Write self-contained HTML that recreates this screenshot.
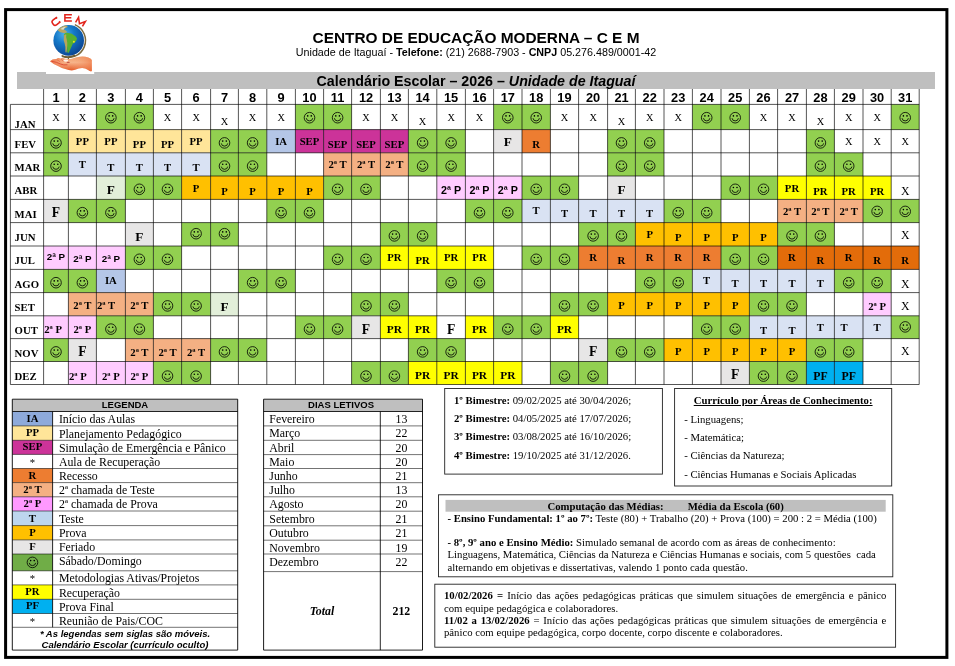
<!DOCTYPE html>
<html lang="pt-BR"><head><meta charset="utf-8"><title>Calendário Escolar 2026 – CEM Itaguaí</title>
<style>
html,body{margin:0;padding:0;background:#fff;}
body{width:955px;height:666px;overflow:hidden;position:relative;font-family:"Liberation Serif",serif;color:#000;}
#g{position:absolute;left:0;top:0;}
#tx{position:absolute;left:0;top:0;width:955px;height:666px;will-change:transform;}
.t{position:absolute;white-space:nowrap;margin:0;padding:0;}
</style></head><body>
<svg id="g" width="955" height="666" viewBox="0 0 955 666">
<defs><g id="sm"><circle r="5.3" fill="none" stroke="#000" stroke-width="0.9" stroke-opacity="0.9"/><circle cx="-1.8" cy="-1.8" r="0.8" fill="#000"/><circle cx="1.8" cy="-1.8" r="0.8" fill="#000"/><path d="M-3.2 0.5 Q-2.9 3.2 0 3.2 Q2.9 3.2 3.2 0.5" fill="none" stroke="#000" stroke-width="0.9" stroke-opacity="0.9"/></g></defs>
<rect x="5.6" y="9.6" width="941.3" height="647.8" fill="none" stroke="#000" stroke-width="3"/>
<rect x="17.00" y="72.00" width="918.00" height="17.00" fill="#bfbfbf" />
<rect x="96.40" y="104.40" width="29.00" height="25.20" fill="#92d050" />
<rect x="125.40" y="104.40" width="28.00" height="25.20" fill="#92d050" />
<rect x="295.40" y="104.40" width="28.20" height="25.20" fill="#92d050" />
<rect x="323.60" y="104.40" width="28.00" height="25.20" fill="#92d050" />
<rect x="493.60" y="104.40" width="28.40" height="25.20" fill="#92d050" />
<rect x="522.00" y="104.40" width="28.40" height="25.20" fill="#92d050" />
<rect x="692.40" y="104.40" width="28.60" height="25.20" fill="#92d050" />
<rect x="721.00" y="104.40" width="28.40" height="25.20" fill="#92d050" />
<rect x="891.20" y="104.40" width="28.00" height="25.20" fill="#92d050" />
<rect x="43.60" y="129.60" width="24.80" height="23.20" fill="#92d050" />
<rect x="68.40" y="129.60" width="28.00" height="23.20" fill="#ffe599" />
<rect x="96.40" y="129.60" width="29.00" height="23.20" fill="#ffe599" />
<rect x="125.40" y="129.60" width="28.00" height="23.20" fill="#ffe599" />
<rect x="153.40" y="129.60" width="28.20" height="23.20" fill="#ffe599" />
<rect x="181.60" y="129.60" width="29.00" height="23.20" fill="#ffe599" />
<rect x="210.60" y="129.60" width="27.80" height="23.20" fill="#92d050" />
<rect x="238.40" y="129.60" width="28.40" height="23.20" fill="#92d050" />
<rect x="266.80" y="129.60" width="28.60" height="23.20" fill="#b4c6e7" />
<rect x="295.40" y="129.60" width="28.20" height="23.20" fill="#cc3399" />
<rect x="323.60" y="129.60" width="28.00" height="23.20" fill="#cc3399" />
<rect x="351.60" y="129.60" width="28.80" height="23.20" fill="#cc3399" />
<rect x="380.40" y="129.60" width="28.00" height="23.20" fill="#cc3399" />
<rect x="408.40" y="129.60" width="28.40" height="23.20" fill="#92d050" />
<rect x="436.80" y="129.60" width="28.60" height="23.20" fill="#92d050" />
<rect x="493.60" y="129.60" width="28.40" height="23.20" fill="#e7e6e6" />
<rect x="522.00" y="129.60" width="28.40" height="23.20" fill="#ed7d31" />
<rect x="607.60" y="129.60" width="27.80" height="23.20" fill="#92d050" />
<rect x="635.40" y="129.60" width="28.60" height="23.20" fill="#92d050" />
<rect x="806.40" y="129.60" width="28.00" height="23.20" fill="#92d050" />
<rect x="43.60" y="152.80" width="24.80" height="23.20" fill="#92d050" />
<rect x="68.40" y="152.80" width="28.00" height="23.20" fill="#d9e2f3" />
<rect x="96.40" y="152.80" width="29.00" height="23.20" fill="#d9e2f3" />
<rect x="125.40" y="152.80" width="28.00" height="23.20" fill="#d9e2f3" />
<rect x="153.40" y="152.80" width="28.20" height="23.20" fill="#d9e2f3" />
<rect x="181.60" y="152.80" width="29.00" height="23.20" fill="#d9e2f3" />
<rect x="210.60" y="152.80" width="27.80" height="23.20" fill="#92d050" />
<rect x="238.40" y="152.80" width="28.40" height="23.20" fill="#92d050" />
<rect x="323.60" y="152.80" width="28.00" height="23.20" fill="#f4b083" />
<rect x="351.60" y="152.80" width="28.80" height="23.20" fill="#f4b083" />
<rect x="380.40" y="152.80" width="28.00" height="23.20" fill="#f4b083" />
<rect x="408.40" y="152.80" width="28.40" height="23.20" fill="#92d050" />
<rect x="436.80" y="152.80" width="28.60" height="23.20" fill="#92d050" />
<rect x="607.60" y="152.80" width="27.80" height="23.20" fill="#92d050" />
<rect x="635.40" y="152.80" width="28.60" height="23.20" fill="#92d050" />
<rect x="806.40" y="152.80" width="28.00" height="23.20" fill="#92d050" />
<rect x="834.40" y="152.80" width="28.60" height="23.20" fill="#92d050" />
<rect x="96.40" y="176.00" width="29.00" height="23.40" fill="#e2efd9" />
<rect x="125.40" y="176.00" width="28.00" height="23.40" fill="#92d050" />
<rect x="153.40" y="176.00" width="28.20" height="23.40" fill="#92d050" />
<rect x="181.60" y="176.00" width="29.00" height="23.40" fill="#ffc000" />
<rect x="210.60" y="176.00" width="27.80" height="23.40" fill="#ffc000" />
<rect x="238.40" y="176.00" width="28.40" height="23.40" fill="#ffc000" />
<rect x="266.80" y="176.00" width="28.60" height="23.40" fill="#ffc000" />
<rect x="295.40" y="176.00" width="28.20" height="23.40" fill="#ffc000" />
<rect x="323.60" y="176.00" width="28.00" height="23.40" fill="#92d050" />
<rect x="351.60" y="176.00" width="28.80" height="23.40" fill="#92d050" />
<rect x="436.80" y="176.00" width="28.60" height="23.40" fill="#ffccff" />
<rect x="465.40" y="176.00" width="28.20" height="23.40" fill="#ffccff" />
<rect x="493.60" y="176.00" width="28.40" height="23.40" fill="#ffccff" />
<rect x="522.00" y="176.00" width="28.40" height="23.40" fill="#92d050" />
<rect x="550.40" y="176.00" width="28.20" height="23.40" fill="#92d050" />
<rect x="607.60" y="176.00" width="27.80" height="23.40" fill="#e7e6e6" />
<rect x="721.00" y="176.00" width="28.40" height="23.40" fill="#92d050" />
<rect x="749.40" y="176.00" width="28.20" height="23.40" fill="#92d050" />
<rect x="777.60" y="176.00" width="28.80" height="23.40" fill="#ffff00" />
<rect x="806.40" y="176.00" width="28.00" height="23.40" fill="#ffff00" />
<rect x="834.40" y="176.00" width="28.60" height="23.40" fill="#ffff00" />
<rect x="863.00" y="176.00" width="28.20" height="23.40" fill="#ffff00" />
<rect x="43.60" y="199.40" width="24.80" height="23.20" fill="#e7e6e6" />
<rect x="68.40" y="199.40" width="28.00" height="23.20" fill="#92d050" />
<rect x="96.40" y="199.40" width="29.00" height="23.20" fill="#92d050" />
<rect x="266.80" y="199.40" width="28.60" height="23.20" fill="#92d050" />
<rect x="295.40" y="199.40" width="28.20" height="23.20" fill="#92d050" />
<rect x="465.40" y="199.40" width="28.20" height="23.20" fill="#92d050" />
<rect x="493.60" y="199.40" width="28.40" height="23.20" fill="#92d050" />
<rect x="522.00" y="199.40" width="28.40" height="23.20" fill="#d9e2f3" />
<rect x="550.40" y="199.40" width="28.20" height="23.20" fill="#d9e2f3" />
<rect x="578.60" y="199.40" width="29.00" height="23.20" fill="#d9e2f3" />
<rect x="607.60" y="199.40" width="27.80" height="23.20" fill="#d9e2f3" />
<rect x="635.40" y="199.40" width="28.60" height="23.20" fill="#d9e2f3" />
<rect x="664.00" y="199.40" width="28.40" height="23.20" fill="#92d050" />
<rect x="692.40" y="199.40" width="28.60" height="23.20" fill="#92d050" />
<rect x="777.60" y="199.40" width="28.80" height="23.20" fill="#f4b083" />
<rect x="806.40" y="199.40" width="28.00" height="23.20" fill="#f4b083" />
<rect x="834.40" y="199.40" width="28.60" height="23.20" fill="#f4b083" />
<rect x="863.00" y="199.40" width="28.20" height="23.20" fill="#92d050" />
<rect x="891.20" y="199.40" width="28.00" height="23.20" fill="#92d050" />
<rect x="125.40" y="222.60" width="28.00" height="23.40" fill="#e7e6e6" />
<rect x="181.60" y="222.60" width="29.00" height="23.40" fill="#92d050" />
<rect x="210.60" y="222.60" width="27.80" height="23.40" fill="#92d050" />
<rect x="380.40" y="222.60" width="28.00" height="23.40" fill="#92d050" />
<rect x="408.40" y="222.60" width="28.40" height="23.40" fill="#92d050" />
<rect x="578.60" y="222.60" width="29.00" height="23.40" fill="#92d050" />
<rect x="607.60" y="222.60" width="27.80" height="23.40" fill="#92d050" />
<rect x="635.40" y="222.60" width="28.60" height="23.40" fill="#ffc000" />
<rect x="664.00" y="222.60" width="28.40" height="23.40" fill="#ffc000" />
<rect x="692.40" y="222.60" width="28.60" height="23.40" fill="#ffc000" />
<rect x="721.00" y="222.60" width="28.40" height="23.40" fill="#ffc000" />
<rect x="749.40" y="222.60" width="28.20" height="23.40" fill="#ffc000" />
<rect x="777.60" y="222.60" width="28.80" height="23.40" fill="#92d050" />
<rect x="806.40" y="222.60" width="28.00" height="23.40" fill="#92d050" />
<rect x="43.60" y="246.00" width="24.80" height="23.40" fill="#ffccff" />
<rect x="68.40" y="246.00" width="28.00" height="23.40" fill="#ffccff" />
<rect x="96.40" y="246.00" width="29.00" height="23.40" fill="#ffccff" />
<rect x="125.40" y="246.00" width="28.00" height="23.40" fill="#92d050" />
<rect x="153.40" y="246.00" width="28.20" height="23.40" fill="#92d050" />
<rect x="323.60" y="246.00" width="28.00" height="23.40" fill="#92d050" />
<rect x="351.60" y="246.00" width="28.80" height="23.40" fill="#92d050" />
<rect x="380.40" y="246.00" width="28.00" height="23.40" fill="#ffff00" />
<rect x="408.40" y="246.00" width="28.40" height="23.40" fill="#ffff00" />
<rect x="436.80" y="246.00" width="28.60" height="23.40" fill="#ffff00" />
<rect x="465.40" y="246.00" width="28.20" height="23.40" fill="#ffff00" />
<rect x="522.00" y="246.00" width="28.40" height="23.40" fill="#92d050" />
<rect x="550.40" y="246.00" width="28.20" height="23.40" fill="#92d050" />
<rect x="578.60" y="246.00" width="29.00" height="23.40" fill="#ed7d31" />
<rect x="607.60" y="246.00" width="27.80" height="23.40" fill="#ed7d31" />
<rect x="635.40" y="246.00" width="28.60" height="23.40" fill="#ed7d31" />
<rect x="664.00" y="246.00" width="28.40" height="23.40" fill="#ed7d31" />
<rect x="692.40" y="246.00" width="28.60" height="23.40" fill="#ed7d31" />
<rect x="721.00" y="246.00" width="28.40" height="23.40" fill="#92d050" />
<rect x="749.40" y="246.00" width="28.20" height="23.40" fill="#92d050" />
<rect x="777.60" y="246.00" width="28.80" height="23.40" fill="#e36c0a" />
<rect x="806.40" y="246.00" width="28.00" height="23.40" fill="#e36c0a" />
<rect x="834.40" y="246.00" width="28.60" height="23.40" fill="#e36c0a" />
<rect x="863.00" y="246.00" width="28.20" height="23.40" fill="#e36c0a" />
<rect x="891.20" y="246.00" width="28.00" height="23.40" fill="#e36c0a" />
<rect x="43.60" y="269.40" width="24.80" height="23.20" fill="#92d050" />
<rect x="68.40" y="269.40" width="28.00" height="23.20" fill="#92d050" />
<rect x="96.40" y="269.40" width="29.00" height="23.20" fill="#b4c6e7" />
<rect x="238.40" y="269.40" width="28.40" height="23.20" fill="#92d050" />
<rect x="266.80" y="269.40" width="28.60" height="23.20" fill="#92d050" />
<rect x="436.80" y="269.40" width="28.60" height="23.20" fill="#92d050" />
<rect x="465.40" y="269.40" width="28.20" height="23.20" fill="#92d050" />
<rect x="635.40" y="269.40" width="28.60" height="23.20" fill="#92d050" />
<rect x="664.00" y="269.40" width="28.40" height="23.20" fill="#92d050" />
<rect x="692.40" y="269.40" width="28.60" height="23.20" fill="#d9e2f3" />
<rect x="721.00" y="269.40" width="28.40" height="23.20" fill="#d9e2f3" />
<rect x="749.40" y="269.40" width="28.20" height="23.20" fill="#d9e2f3" />
<rect x="777.60" y="269.40" width="28.80" height="23.20" fill="#d9e2f3" />
<rect x="806.40" y="269.40" width="28.00" height="23.20" fill="#d9e2f3" />
<rect x="834.40" y="269.40" width="28.60" height="23.20" fill="#92d050" />
<rect x="863.00" y="269.40" width="28.20" height="23.20" fill="#92d050" />
<rect x="68.40" y="292.60" width="28.00" height="23.20" fill="#f4b083" />
<rect x="96.40" y="292.60" width="29.00" height="23.20" fill="#f4b083" />
<rect x="125.40" y="292.60" width="28.00" height="23.20" fill="#f4b083" />
<rect x="153.40" y="292.60" width="28.20" height="23.20" fill="#92d050" />
<rect x="181.60" y="292.60" width="29.00" height="23.20" fill="#92d050" />
<rect x="210.60" y="292.60" width="27.80" height="23.20" fill="#e2efd9" />
<rect x="351.60" y="292.60" width="28.80" height="23.20" fill="#92d050" />
<rect x="380.40" y="292.60" width="28.00" height="23.20" fill="#92d050" />
<rect x="550.40" y="292.60" width="28.20" height="23.20" fill="#92d050" />
<rect x="578.60" y="292.60" width="29.00" height="23.20" fill="#92d050" />
<rect x="607.60" y="292.60" width="27.80" height="23.20" fill="#ffc000" />
<rect x="635.40" y="292.60" width="28.60" height="23.20" fill="#ffc000" />
<rect x="664.00" y="292.60" width="28.40" height="23.20" fill="#ffc000" />
<rect x="692.40" y="292.60" width="28.60" height="23.20" fill="#ffc000" />
<rect x="721.00" y="292.60" width="28.40" height="23.20" fill="#ffc000" />
<rect x="749.40" y="292.60" width="28.20" height="23.20" fill="#92d050" />
<rect x="777.60" y="292.60" width="28.80" height="23.20" fill="#92d050" />
<rect x="863.00" y="292.60" width="28.20" height="23.20" fill="#ffccff" />
<rect x="43.60" y="315.80" width="24.80" height="22.80" fill="#ffccff" />
<rect x="68.40" y="315.80" width="28.00" height="22.80" fill="#ffccff" />
<rect x="96.40" y="315.80" width="29.00" height="22.80" fill="#92d050" />
<rect x="125.40" y="315.80" width="28.00" height="22.80" fill="#92d050" />
<rect x="295.40" y="315.80" width="28.20" height="22.80" fill="#92d050" />
<rect x="323.60" y="315.80" width="28.00" height="22.80" fill="#92d050" />
<rect x="351.60" y="315.80" width="28.80" height="22.80" fill="#e7e6e6" />
<rect x="380.40" y="315.80" width="28.00" height="22.80" fill="#ffff00" />
<rect x="408.40" y="315.80" width="28.40" height="22.80" fill="#ffff00" />
<rect x="465.40" y="315.80" width="28.20" height="22.80" fill="#ffff00" />
<rect x="493.60" y="315.80" width="28.40" height="22.80" fill="#92d050" />
<rect x="522.00" y="315.80" width="28.40" height="22.80" fill="#92d050" />
<rect x="550.40" y="315.80" width="28.20" height="22.80" fill="#ffff00" />
<rect x="692.40" y="315.80" width="28.60" height="22.80" fill="#92d050" />
<rect x="721.00" y="315.80" width="28.40" height="22.80" fill="#92d050" />
<rect x="749.40" y="315.80" width="28.20" height="22.80" fill="#d9e2f3" />
<rect x="777.60" y="315.80" width="28.80" height="22.80" fill="#d9e2f3" />
<rect x="806.40" y="315.80" width="28.00" height="22.80" fill="#d9e2f3" />
<rect x="834.40" y="315.80" width="28.60" height="22.80" fill="#d9e2f3" />
<rect x="863.00" y="315.80" width="28.20" height="22.80" fill="#d9e2f3" />
<rect x="891.20" y="315.80" width="28.00" height="22.80" fill="#92d050" />
<rect x="43.60" y="338.60" width="24.80" height="22.90" fill="#92d050" />
<rect x="68.40" y="338.60" width="28.00" height="22.90" fill="#e7e6e6" />
<rect x="125.40" y="338.60" width="28.00" height="22.90" fill="#f4b083" />
<rect x="153.40" y="338.60" width="28.20" height="22.90" fill="#f4b083" />
<rect x="181.60" y="338.60" width="29.00" height="22.90" fill="#f4b083" />
<rect x="210.60" y="338.60" width="27.80" height="22.90" fill="#92d050" />
<rect x="238.40" y="338.60" width="28.40" height="22.90" fill="#92d050" />
<rect x="408.40" y="338.60" width="28.40" height="22.90" fill="#92d050" />
<rect x="436.80" y="338.60" width="28.60" height="22.90" fill="#92d050" />
<rect x="578.60" y="338.60" width="29.00" height="22.90" fill="#e7e6e6" />
<rect x="607.60" y="338.60" width="27.80" height="22.90" fill="#92d050" />
<rect x="635.40" y="338.60" width="28.60" height="22.90" fill="#92d050" />
<rect x="664.00" y="338.60" width="28.40" height="22.90" fill="#ffc000" />
<rect x="692.40" y="338.60" width="28.60" height="22.90" fill="#ffc000" />
<rect x="721.00" y="338.60" width="28.40" height="22.90" fill="#ffc000" />
<rect x="749.40" y="338.60" width="28.20" height="22.90" fill="#ffc000" />
<rect x="777.60" y="338.60" width="28.80" height="22.90" fill="#ffc000" />
<rect x="806.40" y="338.60" width="28.00" height="22.90" fill="#92d050" />
<rect x="834.40" y="338.60" width="28.60" height="22.90" fill="#92d050" />
<rect x="68.40" y="361.50" width="28.00" height="23.00" fill="#ffccff" />
<rect x="96.40" y="361.50" width="29.00" height="23.00" fill="#ffccff" />
<rect x="125.40" y="361.50" width="28.00" height="23.00" fill="#ffccff" />
<rect x="153.40" y="361.50" width="28.20" height="23.00" fill="#92d050" />
<rect x="181.60" y="361.50" width="29.00" height="23.00" fill="#92d050" />
<rect x="351.60" y="361.50" width="28.80" height="23.00" fill="#92d050" />
<rect x="380.40" y="361.50" width="28.00" height="23.00" fill="#92d050" />
<rect x="408.40" y="361.50" width="28.40" height="23.00" fill="#ffff00" />
<rect x="436.80" y="361.50" width="28.60" height="23.00" fill="#ffff00" />
<rect x="465.40" y="361.50" width="28.20" height="23.00" fill="#ffff00" />
<rect x="493.60" y="361.50" width="28.40" height="23.00" fill="#ffff00" />
<rect x="550.40" y="361.50" width="28.20" height="23.00" fill="#92d050" />
<rect x="578.60" y="361.50" width="29.00" height="23.00" fill="#92d050" />
<rect x="721.00" y="361.50" width="28.40" height="23.00" fill="#e7e6e6" />
<rect x="749.40" y="361.50" width="28.20" height="23.00" fill="#92d050" />
<rect x="777.60" y="361.50" width="28.80" height="23.00" fill="#92d050" />
<rect x="806.40" y="361.50" width="28.00" height="23.00" fill="#00b0f0" />
<rect x="834.40" y="361.50" width="28.60" height="23.00" fill="#00b0f0" />
<line x1="43.60" y1="89.00" x2="43.60" y2="384.50" stroke="#000" stroke-width="0.7" stroke-opacity="0.95"/>
<line x1="68.40" y1="89.00" x2="68.40" y2="384.50" stroke="#000" stroke-width="0.7" stroke-opacity="0.95"/>
<line x1="96.40" y1="89.00" x2="96.40" y2="384.50" stroke="#000" stroke-width="0.7" stroke-opacity="0.95"/>
<line x1="125.40" y1="89.00" x2="125.40" y2="384.50" stroke="#000" stroke-width="0.7" stroke-opacity="0.95"/>
<line x1="153.40" y1="89.00" x2="153.40" y2="384.50" stroke="#000" stroke-width="0.7" stroke-opacity="0.95"/>
<line x1="181.60" y1="89.00" x2="181.60" y2="384.50" stroke="#000" stroke-width="0.7" stroke-opacity="0.95"/>
<line x1="210.60" y1="89.00" x2="210.60" y2="384.50" stroke="#000" stroke-width="0.7" stroke-opacity="0.95"/>
<line x1="238.40" y1="89.00" x2="238.40" y2="384.50" stroke="#000" stroke-width="0.7" stroke-opacity="0.95"/>
<line x1="266.80" y1="89.00" x2="266.80" y2="384.50" stroke="#000" stroke-width="0.7" stroke-opacity="0.95"/>
<line x1="295.40" y1="89.00" x2="295.40" y2="384.50" stroke="#000" stroke-width="0.7" stroke-opacity="0.95"/>
<line x1="323.60" y1="89.00" x2="323.60" y2="384.50" stroke="#000" stroke-width="0.7" stroke-opacity="0.95"/>
<line x1="351.60" y1="89.00" x2="351.60" y2="384.50" stroke="#000" stroke-width="0.7" stroke-opacity="0.95"/>
<line x1="380.40" y1="89.00" x2="380.40" y2="384.50" stroke="#000" stroke-width="0.7" stroke-opacity="0.95"/>
<line x1="408.40" y1="89.00" x2="408.40" y2="384.50" stroke="#000" stroke-width="0.7" stroke-opacity="0.95"/>
<line x1="436.80" y1="89.00" x2="436.80" y2="384.50" stroke="#000" stroke-width="0.7" stroke-opacity="0.95"/>
<line x1="465.40" y1="89.00" x2="465.40" y2="384.50" stroke="#000" stroke-width="0.7" stroke-opacity="0.95"/>
<line x1="493.60" y1="89.00" x2="493.60" y2="384.50" stroke="#000" stroke-width="0.7" stroke-opacity="0.95"/>
<line x1="522.00" y1="89.00" x2="522.00" y2="384.50" stroke="#000" stroke-width="0.7" stroke-opacity="0.95"/>
<line x1="550.40" y1="89.00" x2="550.40" y2="384.50" stroke="#000" stroke-width="0.7" stroke-opacity="0.95"/>
<line x1="578.60" y1="89.00" x2="578.60" y2="384.50" stroke="#000" stroke-width="0.7" stroke-opacity="0.95"/>
<line x1="607.60" y1="89.00" x2="607.60" y2="384.50" stroke="#000" stroke-width="0.7" stroke-opacity="0.95"/>
<line x1="635.40" y1="89.00" x2="635.40" y2="384.50" stroke="#000" stroke-width="0.7" stroke-opacity="0.95"/>
<line x1="664.00" y1="89.00" x2="664.00" y2="384.50" stroke="#000" stroke-width="0.7" stroke-opacity="0.95"/>
<line x1="692.40" y1="89.00" x2="692.40" y2="384.50" stroke="#000" stroke-width="0.7" stroke-opacity="0.95"/>
<line x1="721.00" y1="89.00" x2="721.00" y2="384.50" stroke="#000" stroke-width="0.7" stroke-opacity="0.95"/>
<line x1="749.40" y1="89.00" x2="749.40" y2="384.50" stroke="#000" stroke-width="0.7" stroke-opacity="0.95"/>
<line x1="777.60" y1="89.00" x2="777.60" y2="384.50" stroke="#000" stroke-width="0.7" stroke-opacity="0.95"/>
<line x1="806.40" y1="89.00" x2="806.40" y2="384.50" stroke="#000" stroke-width="0.7" stroke-opacity="0.95"/>
<line x1="834.40" y1="89.00" x2="834.40" y2="384.50" stroke="#000" stroke-width="0.7" stroke-opacity="0.95"/>
<line x1="863.00" y1="89.00" x2="863.00" y2="384.50" stroke="#000" stroke-width="0.7" stroke-opacity="0.95"/>
<line x1="891.20" y1="89.00" x2="891.20" y2="384.50" stroke="#000" stroke-width="0.7" stroke-opacity="0.95"/>
<line x1="919.20" y1="89.00" x2="919.20" y2="384.50" stroke="#000" stroke-width="0.7" stroke-opacity="0.95"/>
<line x1="10.40" y1="104.40" x2="10.40" y2="384.50" stroke="#000" stroke-width="0.7" stroke-opacity="0.95"/>
<line x1="10.40" y1="104.40" x2="919.20" y2="104.40" stroke="#000" stroke-width="0.7" stroke-opacity="0.95"/>
<line x1="10.40" y1="129.60" x2="919.20" y2="129.60" stroke="#000" stroke-width="0.7" stroke-opacity="0.95"/>
<line x1="10.40" y1="152.80" x2="919.20" y2="152.80" stroke="#000" stroke-width="0.7" stroke-opacity="0.95"/>
<line x1="10.40" y1="176.00" x2="919.20" y2="176.00" stroke="#000" stroke-width="0.7" stroke-opacity="0.95"/>
<line x1="10.40" y1="199.40" x2="919.20" y2="199.40" stroke="#000" stroke-width="0.7" stroke-opacity="0.95"/>
<line x1="10.40" y1="222.60" x2="919.20" y2="222.60" stroke="#000" stroke-width="0.7" stroke-opacity="0.95"/>
<line x1="10.40" y1="246.00" x2="919.20" y2="246.00" stroke="#000" stroke-width="0.7" stroke-opacity="0.95"/>
<line x1="10.40" y1="269.40" x2="919.20" y2="269.40" stroke="#000" stroke-width="0.7" stroke-opacity="0.95"/>
<line x1="10.40" y1="292.60" x2="919.20" y2="292.60" stroke="#000" stroke-width="0.7" stroke-opacity="0.95"/>
<line x1="10.40" y1="315.80" x2="919.20" y2="315.80" stroke="#000" stroke-width="0.7" stroke-opacity="0.95"/>
<line x1="10.40" y1="338.60" x2="919.20" y2="338.60" stroke="#000" stroke-width="0.7" stroke-opacity="0.95"/>
<line x1="10.40" y1="361.50" x2="919.20" y2="361.50" stroke="#000" stroke-width="0.7" stroke-opacity="0.95"/>
<line x1="10.40" y1="384.50" x2="919.20" y2="384.50" stroke="#000" stroke-width="0.7" stroke-opacity="0.95"/>
<use href="#sm" x="110.90" y="117.70"/>
<use href="#sm" x="139.40" y="117.70"/>
<use href="#sm" x="309.50" y="117.70"/>
<use href="#sm" x="337.60" y="117.70"/>
<use href="#sm" x="507.80" y="117.70"/>
<use href="#sm" x="536.20" y="117.70"/>
<use href="#sm" x="706.70" y="117.70"/>
<use href="#sm" x="735.20" y="117.70"/>
<use href="#sm" x="905.20" y="117.70"/>
<use href="#sm" x="56.00" y="142.90"/>
<use href="#sm" x="224.50" y="142.90"/>
<use href="#sm" x="252.60" y="142.90"/>
<use href="#sm" x="422.60" y="142.90"/>
<use href="#sm" x="451.10" y="142.90"/>
<use href="#sm" x="621.50" y="142.90"/>
<use href="#sm" x="649.70" y="142.90"/>
<use href="#sm" x="820.40" y="142.90"/>
<use href="#sm" x="56.00" y="166.10"/>
<use href="#sm" x="224.50" y="166.10"/>
<use href="#sm" x="252.60" y="166.10"/>
<use href="#sm" x="422.60" y="166.10"/>
<use href="#sm" x="451.10" y="166.10"/>
<use href="#sm" x="621.50" y="166.10"/>
<use href="#sm" x="649.70" y="166.10"/>
<use href="#sm" x="820.40" y="166.10"/>
<use href="#sm" x="848.70" y="166.10"/>
<use href="#sm" x="139.40" y="189.30"/>
<use href="#sm" x="167.50" y="189.30"/>
<use href="#sm" x="337.60" y="189.30"/>
<use href="#sm" x="366.00" y="189.30"/>
<use href="#sm" x="536.20" y="189.30"/>
<use href="#sm" x="564.50" y="189.30"/>
<use href="#sm" x="735.20" y="189.30"/>
<use href="#sm" x="763.50" y="189.30"/>
<use href="#sm" x="82.40" y="212.70"/>
<use href="#sm" x="110.90" y="212.70"/>
<use href="#sm" x="281.10" y="212.70"/>
<use href="#sm" x="309.50" y="212.70"/>
<use href="#sm" x="479.50" y="212.70"/>
<use href="#sm" x="507.80" y="212.70"/>
<use href="#sm" x="678.20" y="212.70"/>
<use href="#sm" x="706.70" y="212.70"/>
<use href="#sm" x="877.10" y="211.40"/>
<use href="#sm" x="905.20" y="211.40"/>
<use href="#sm" x="196.10" y="233.70"/>
<use href="#sm" x="224.50" y="233.70"/>
<use href="#sm" x="394.40" y="235.90"/>
<use href="#sm" x="422.60" y="235.90"/>
<use href="#sm" x="593.10" y="235.90"/>
<use href="#sm" x="621.50" y="235.90"/>
<use href="#sm" x="792.00" y="235.90"/>
<use href="#sm" x="820.40" y="235.90"/>
<use href="#sm" x="139.40" y="259.30"/>
<use href="#sm" x="167.50" y="259.30"/>
<use href="#sm" x="337.60" y="259.30"/>
<use href="#sm" x="366.00" y="259.30"/>
<use href="#sm" x="536.20" y="259.30"/>
<use href="#sm" x="564.50" y="259.30"/>
<use href="#sm" x="735.20" y="259.30"/>
<use href="#sm" x="763.50" y="259.30"/>
<use href="#sm" x="56.00" y="282.70"/>
<use href="#sm" x="82.40" y="282.70"/>
<use href="#sm" x="252.60" y="282.70"/>
<use href="#sm" x="281.10" y="282.70"/>
<use href="#sm" x="451.10" y="282.70"/>
<use href="#sm" x="479.50" y="282.70"/>
<use href="#sm" x="649.70" y="282.70"/>
<use href="#sm" x="678.20" y="282.70"/>
<use href="#sm" x="848.70" y="282.70"/>
<use href="#sm" x="877.10" y="282.70"/>
<use href="#sm" x="167.50" y="305.90"/>
<use href="#sm" x="196.10" y="305.90"/>
<use href="#sm" x="366.00" y="305.90"/>
<use href="#sm" x="394.40" y="305.90"/>
<use href="#sm" x="564.50" y="305.90"/>
<use href="#sm" x="593.10" y="305.90"/>
<use href="#sm" x="763.50" y="305.90"/>
<use href="#sm" x="792.00" y="305.90"/>
<use href="#sm" x="110.90" y="329.10"/>
<use href="#sm" x="139.40" y="329.10"/>
<use href="#sm" x="309.50" y="329.10"/>
<use href="#sm" x="337.60" y="329.10"/>
<use href="#sm" x="507.80" y="329.10"/>
<use href="#sm" x="536.20" y="329.10"/>
<use href="#sm" x="706.70" y="329.10"/>
<use href="#sm" x="735.20" y="329.10"/>
<use href="#sm" x="905.20" y="326.90"/>
<use href="#sm" x="56.00" y="351.90"/>
<use href="#sm" x="224.50" y="351.90"/>
<use href="#sm" x="252.60" y="351.90"/>
<use href="#sm" x="422.60" y="351.90"/>
<use href="#sm" x="451.10" y="351.90"/>
<use href="#sm" x="621.50" y="351.90"/>
<use href="#sm" x="649.70" y="351.90"/>
<use href="#sm" x="820.40" y="351.90"/>
<use href="#sm" x="848.70" y="351.90"/>
<use href="#sm" x="167.50" y="376.10"/>
<use href="#sm" x="196.10" y="376.10"/>
<use href="#sm" x="366.00" y="376.10"/>
<use href="#sm" x="394.40" y="376.10"/>
<use href="#sm" x="564.50" y="376.10"/>
<use href="#sm" x="593.10" y="376.10"/>
<use href="#sm" x="763.50" y="376.10"/>
<use href="#sm" x="792.00" y="376.10"/>
<rect x="12.30" y="399.20" width="225.40" height="12.30" fill="#bfbfbf" />
<rect x="12.30" y="411.50" width="40.30" height="14.40" fill="#8eaadb" />
<rect x="12.30" y="425.90" width="40.30" height="14.40" fill="#ffe599" />
<rect x="12.30" y="440.30" width="40.30" height="14.10" fill="#cc3399" />
<rect x="12.30" y="468.50" width="40.30" height="14.10" fill="#ed7d31" />
<rect x="12.30" y="482.60" width="40.30" height="14.20" fill="#f4b083" />
<rect x="12.30" y="496.80" width="40.30" height="14.20" fill="#ff99ff" />
<rect x="12.30" y="511.00" width="40.30" height="14.60" fill="#bdd6ee" />
<rect x="12.30" y="525.60" width="40.30" height="14.30" fill="#ffc000" />
<rect x="12.30" y="539.90" width="40.30" height="14.10" fill="#e7e6e6" />
<rect x="12.30" y="554.00" width="40.30" height="16.80" fill="#70ad47" />
<use href="#sm" x="32.45" y="562.40"/>
<rect x="12.30" y="584.90" width="40.30" height="14.40" fill="#ffff00" />
<rect x="12.30" y="599.30" width="40.30" height="14.20" fill="#00b0f0" />
<line x1="12.30" y1="399.20" x2="237.70" y2="399.20" stroke="#000" stroke-width="0.85" stroke-opacity="1.0"/>
<line x1="12.30" y1="411.50" x2="237.70" y2="411.50" stroke="#000" stroke-width="0.85" stroke-opacity="1.0"/>
<line x1="12.30" y1="425.90" x2="237.70" y2="425.90" stroke="#000" stroke-width="0.65" stroke-opacity="0.85"/>
<line x1="12.30" y1="440.30" x2="237.70" y2="440.30" stroke="#000" stroke-width="0.65" stroke-opacity="0.85"/>
<line x1="12.30" y1="454.40" x2="237.70" y2="454.40" stroke="#000" stroke-width="0.65" stroke-opacity="0.85"/>
<line x1="12.30" y1="468.50" x2="237.70" y2="468.50" stroke="#000" stroke-width="0.65" stroke-opacity="0.85"/>
<line x1="12.30" y1="482.60" x2="237.70" y2="482.60" stroke="#000" stroke-width="0.65" stroke-opacity="0.85"/>
<line x1="12.30" y1="496.80" x2="237.70" y2="496.80" stroke="#000" stroke-width="0.65" stroke-opacity="0.85"/>
<line x1="12.30" y1="511.00" x2="237.70" y2="511.00" stroke="#000" stroke-width="0.65" stroke-opacity="0.85"/>
<line x1="12.30" y1="525.60" x2="237.70" y2="525.60" stroke="#000" stroke-width="0.65" stroke-opacity="0.85"/>
<line x1="12.30" y1="539.90" x2="237.70" y2="539.90" stroke="#000" stroke-width="0.65" stroke-opacity="0.85"/>
<line x1="12.30" y1="554.00" x2="237.70" y2="554.00" stroke="#000" stroke-width="0.65" stroke-opacity="0.85"/>
<line x1="12.30" y1="570.80" x2="237.70" y2="570.80" stroke="#000" stroke-width="0.65" stroke-opacity="0.85"/>
<line x1="12.30" y1="584.90" x2="237.70" y2="584.90" stroke="#000" stroke-width="0.65" stroke-opacity="0.85"/>
<line x1="12.30" y1="599.30" x2="237.70" y2="599.30" stroke="#000" stroke-width="0.65" stroke-opacity="0.85"/>
<line x1="12.30" y1="613.50" x2="237.70" y2="613.50" stroke="#000" stroke-width="0.65" stroke-opacity="0.85"/>
<line x1="12.30" y1="627.30" x2="237.70" y2="627.30" stroke="#000" stroke-width="0.65" stroke-opacity="0.85"/>
<line x1="12.30" y1="650.10" x2="237.70" y2="650.10" stroke="#000" stroke-width="0.85" stroke-opacity="1.0"/>
<line x1="12.30" y1="399.20" x2="12.30" y2="650.10" stroke="#000" stroke-width="0.9" stroke-opacity="1.0"/>
<line x1="237.70" y1="399.20" x2="237.70" y2="650.10" stroke="#000" stroke-width="0.9" stroke-opacity="1.0"/>
<line x1="52.60" y1="411.50" x2="52.60" y2="627.30" stroke="#000" stroke-width="0.85" stroke-opacity="1.0"/>
<rect x="263.60" y="399.20" width="158.90" height="12.30" fill="#bfbfbf" />
<line x1="263.60" y1="399.20" x2="422.50" y2="399.20" stroke="#000" stroke-width="0.85" stroke-opacity="1.0"/>
<line x1="263.60" y1="411.50" x2="422.50" y2="411.50" stroke="#000" stroke-width="0.85" stroke-opacity="1.0"/>
<line x1="263.60" y1="425.90" x2="422.50" y2="425.90" stroke="#000" stroke-width="0.65" stroke-opacity="0.85"/>
<line x1="263.60" y1="440.30" x2="422.50" y2="440.30" stroke="#000" stroke-width="0.65" stroke-opacity="0.85"/>
<line x1="263.60" y1="454.60" x2="422.50" y2="454.60" stroke="#000" stroke-width="0.65" stroke-opacity="0.85"/>
<line x1="263.60" y1="468.50" x2="422.50" y2="468.50" stroke="#000" stroke-width="0.65" stroke-opacity="0.85"/>
<line x1="263.60" y1="482.70" x2="422.50" y2="482.70" stroke="#000" stroke-width="0.65" stroke-opacity="0.85"/>
<line x1="263.60" y1="496.80" x2="422.50" y2="496.80" stroke="#000" stroke-width="0.65" stroke-opacity="0.85"/>
<line x1="263.60" y1="511.20" x2="422.50" y2="511.20" stroke="#000" stroke-width="0.65" stroke-opacity="0.85"/>
<line x1="263.60" y1="525.80" x2="422.50" y2="525.80" stroke="#000" stroke-width="0.65" stroke-opacity="0.85"/>
<line x1="263.60" y1="540.20" x2="422.50" y2="540.20" stroke="#000" stroke-width="0.65" stroke-opacity="0.85"/>
<line x1="263.60" y1="554.00" x2="422.50" y2="554.00" stroke="#000" stroke-width="0.65" stroke-opacity="0.85"/>
<line x1="263.60" y1="571.60" x2="422.50" y2="571.60" stroke="#000" stroke-width="0.65" stroke-opacity="0.85"/>
<line x1="263.60" y1="650.10" x2="422.50" y2="650.10" stroke="#000" stroke-width="0.85" stroke-opacity="1.0"/>
<line x1="263.60" y1="399.20" x2="263.60" y2="650.10" stroke="#000" stroke-width="0.9" stroke-opacity="1.0"/>
<line x1="422.50" y1="399.20" x2="422.50" y2="650.10" stroke="#000" stroke-width="0.9" stroke-opacity="1.0"/>
<line x1="380.30" y1="411.50" x2="380.30" y2="650.10" stroke="#000" stroke-width="0.85" stroke-opacity="1.0"/>
<rect x="444.70" y="388.50" width="217.70" height="85.60" fill="#fff" stroke="#222" stroke-width="0.9"/>
<rect x="674.60" y="388.50" width="217.10" height="97.50" fill="#fff" stroke="#222" stroke-width="0.9"/>
<rect x="438.50" y="494.80" width="454.30" height="82.00" fill="#fff" stroke="#222" stroke-width="0.9"/>
<rect x="445.50" y="499.90" width="440.20" height="11.80" fill="#bfbfbf" />
<rect x="434.80" y="584.20" width="460.80" height="63.00" fill="#fff" stroke="#222" stroke-width="0.9"/>

<g id="logo">
<rect x="46" y="12" width="48.2" height="62" fill="#fff"/>
<defs>
<radialGradient id="gl" cx="0.36" cy="0.30" r="0.78"><stop offset="0" stop-color="#4fb0ea"/><stop offset="0.4" stop-color="#1479c9"/><stop offset="1" stop-color="#0b3f8c"/></radialGradient>
<linearGradient id="hd" x1="0" y1="0" x2="0" y2="1"><stop offset="0" stop-color="#f19a66"/><stop offset="0.4" stop-color="#f7b48a"/><stop offset="1" stop-color="#e2501c"/></linearGradient>
<linearGradient id="hd2" x1="0" y1="0" x2="1" y2="0"><stop offset="0" stop-color="#e8552a"/><stop offset="0.5" stop-color="#f7b48c" stop-opacity="0"/><stop offset="1" stop-color="#ee7a48"/></linearGradient>
</defs>
<path d="M74.8 24.6 A16.9 16.9 0 0 1 62 56.3" fill="none" stroke="#7d6a3c" stroke-width="1.5"/>
<circle cx="68.7" cy="40.4" r="15.3" fill="url(#gl)"/>
<path d="M57.6 30.2 q2.6 -3.6 7.8 -4.6 q2.6 0.2 2 1.6 q-2.8 0.6 -3.6 2.2 q2.2 0.8 3.4 2.6 q-1.6 1.4 -3.4 1.0 q-3.8 -0.4 -6.2 -2.8z" fill="#b9a663"/>
<path d="M60.5 29.0 q3 -2.4 5.6 -2.2 q-2.2 1.4 -2.6 3.0 q-1.6 0 -3 -0.8z" fill="#e8eef0" fill-opacity="0.75"/>
<path d="M63.8 34.2 q2.4 -2.2 5.4 -1.0 q2.6 -0.2 4.4 1.8 q2.6 1.2 3.4 3.6 q-0.6 3.6 -4.2 5.2 q-1.6 3.6 -3.8 8.4 q-1.2 1.6 -1.8 -0.4 q0.4 -5 -0.8 -8.6 q-2.8 -3.6 -2.6 -9z" fill="#58b030"/>
<path d="M64.2 35 q1.2 -1 2.2 -0.2 q-0.8 2.4 0.4 5 q0.8 3.2 0.4 6.4 q-0.2 3 -0.6 6 q-1 0.8 -1.2 -0.6 q0.4 -5 -0.8 -8.4 q-1.6 -3.2 -0.4 -8.2z" fill="#b7a45e"/>
<circle cx="73.9" cy="41.8" r="1.0" fill="#f2e21c"/>
<path d="M61.6 55.6 q6.6 3 13.6 -0.4" fill="none" stroke="#6e5c34" stroke-width="1.3"/>
<line x1="68.4" y1="57" x2="68.4" y2="60.2" stroke="#6e5c34" stroke-width="1.1"/>
<path d="M50 61.2 q2.6 -2.4 6.4 -2.2 q1.6 -1.6 4 -0.6 q2.4 -1 4.6 0.4 q3.4 0.6 6.6 0 q4 -1.6 8 -2 q4.6 -0.8 8.6 0.8 q2.6 0.8 3.6 2.4 l0 11 q-1.6 0.8 -3.6 -1 q-4.4 -3 -9.6 -1.4 q-5 2.6 -10 1.4 q-6.6 -1.2 -10.6 -4 q-4.6 -1.8 -8 -4.8z" fill="url(#hd)"/>
<path d="M50 61.2 q2.6 -2.4 6.4 -2.2 q1.6 -1.6 4 -0.6 q2.4 -1 4.6 0.4 q3.4 0.6 6.6 0 q4 -1.6 8 -2 q4.6 -0.8 8.6 0.8 q2.6 0.8 3.6 2.4 l0 11 q-1.6 0.8 -3.6 -1 q-4.4 -3 -9.6 -1.4 q-5 2.6 -10 1.4 q-6.6 -1.2 -10.6 -4 q-4.6 -1.8 -8 -4.8z" fill="url(#hd2)" fill-opacity="0.7"/>
<path d="M51.5 61.4 q5 0.4 9 2.6 q3 1.4 7 0.8" fill="none" stroke="#d8402a" stroke-width="0.8"/>
<path d="M56.8 59.6 q2.2 1 3.4 2.4 M61 58.8 q1.6 1.2 2.2 2.6" fill="none" stroke="#e0603c" stroke-width="0.6"/>
<ellipse cx="65.8" cy="60.6" rx="2.4" ry="1.1" fill="#fff" opacity="0.85"/>
<ellipse cx="68.2" cy="62.4" rx="1.6" ry="0.7" fill="#b03030" opacity="0.7"/>
<g fill="none" stroke="#e2231a" stroke-width="1.55" stroke-linecap="butt" stroke-linejoin="miter">
<path transform="translate(55.5 21.9) rotate(-38)" d="M3.3 -1.7 V-2.9 H-1.0 Q-3.2 -2.9 -3.2 -0.7 V0.7 Q-3.2 2.9 -1.0 2.9 H3.3 V1.7"/>
<path transform="translate(68.0 17.8)" d="M3.9 -3.1 H-3.1 V3.1 H3.9 M-3.1 0 H3.3"/>
<path transform="translate(80.5 21.9) rotate(31)" d="M-4.0 2.9 V-2.9 L0 2.0 L4.0 -2.9 V2.9"/>
</g>
</g>

</svg>
<div id="tx">

<div class="t" style="left:43.60px;top:90.18px;font:bold 12.8px/15.36px 'Liberation Sans',sans-serif;width:24.80px;text-align:center;">1</div>
<div class="t" style="left:68.40px;top:90.18px;font:bold 12.8px/15.36px 'Liberation Sans',sans-serif;width:28.00px;text-align:center;">2</div>
<div class="t" style="left:96.40px;top:90.18px;font:bold 12.8px/15.36px 'Liberation Sans',sans-serif;width:29.00px;text-align:center;">3</div>
<div class="t" style="left:125.40px;top:90.18px;font:bold 12.8px/15.36px 'Liberation Sans',sans-serif;width:28.00px;text-align:center;">4</div>
<div class="t" style="left:153.40px;top:90.18px;font:bold 12.8px/15.36px 'Liberation Sans',sans-serif;width:28.20px;text-align:center;">5</div>
<div class="t" style="left:181.60px;top:90.18px;font:bold 12.8px/15.36px 'Liberation Sans',sans-serif;width:29.00px;text-align:center;">6</div>
<div class="t" style="left:210.60px;top:90.18px;font:bold 12.8px/15.36px 'Liberation Sans',sans-serif;width:27.80px;text-align:center;">7</div>
<div class="t" style="left:238.40px;top:90.18px;font:bold 12.8px/15.36px 'Liberation Sans',sans-serif;width:28.40px;text-align:center;">8</div>
<div class="t" style="left:266.80px;top:90.18px;font:bold 12.8px/15.36px 'Liberation Sans',sans-serif;width:28.60px;text-align:center;">9</div>
<div class="t" style="left:295.40px;top:90.18px;font:bold 12.8px/15.36px 'Liberation Sans',sans-serif;width:28.20px;text-align:center;">10</div>
<div class="t" style="left:323.60px;top:90.18px;font:bold 12.8px/15.36px 'Liberation Sans',sans-serif;width:28.00px;text-align:center;">11</div>
<div class="t" style="left:351.60px;top:90.18px;font:bold 12.8px/15.36px 'Liberation Sans',sans-serif;width:28.80px;text-align:center;">12</div>
<div class="t" style="left:380.40px;top:90.18px;font:bold 12.8px/15.36px 'Liberation Sans',sans-serif;width:28.00px;text-align:center;">13</div>
<div class="t" style="left:408.40px;top:90.18px;font:bold 12.8px/15.36px 'Liberation Sans',sans-serif;width:28.40px;text-align:center;">14</div>
<div class="t" style="left:436.80px;top:90.18px;font:bold 12.8px/15.36px 'Liberation Sans',sans-serif;width:28.60px;text-align:center;">15</div>
<div class="t" style="left:465.40px;top:90.18px;font:bold 12.8px/15.36px 'Liberation Sans',sans-serif;width:28.20px;text-align:center;">16</div>
<div class="t" style="left:493.60px;top:90.18px;font:bold 12.8px/15.36px 'Liberation Sans',sans-serif;width:28.40px;text-align:center;">17</div>
<div class="t" style="left:522.00px;top:90.18px;font:bold 12.8px/15.36px 'Liberation Sans',sans-serif;width:28.40px;text-align:center;">18</div>
<div class="t" style="left:550.40px;top:90.18px;font:bold 12.8px/15.36px 'Liberation Sans',sans-serif;width:28.20px;text-align:center;">19</div>
<div class="t" style="left:578.60px;top:90.18px;font:bold 12.8px/15.36px 'Liberation Sans',sans-serif;width:29.00px;text-align:center;">20</div>
<div class="t" style="left:607.60px;top:90.18px;font:bold 12.8px/15.36px 'Liberation Sans',sans-serif;width:27.80px;text-align:center;">21</div>
<div class="t" style="left:635.40px;top:90.18px;font:bold 12.8px/15.36px 'Liberation Sans',sans-serif;width:28.60px;text-align:center;">22</div>
<div class="t" style="left:664.00px;top:90.18px;font:bold 12.8px/15.36px 'Liberation Sans',sans-serif;width:28.40px;text-align:center;">23</div>
<div class="t" style="left:692.40px;top:90.18px;font:bold 12.8px/15.36px 'Liberation Sans',sans-serif;width:28.60px;text-align:center;">24</div>
<div class="t" style="left:721.00px;top:90.18px;font:bold 12.8px/15.36px 'Liberation Sans',sans-serif;width:28.40px;text-align:center;">25</div>
<div class="t" style="left:749.40px;top:90.18px;font:bold 12.8px/15.36px 'Liberation Sans',sans-serif;width:28.20px;text-align:center;">26</div>
<div class="t" style="left:777.60px;top:90.18px;font:bold 12.8px/15.36px 'Liberation Sans',sans-serif;width:28.80px;text-align:center;">27</div>
<div class="t" style="left:806.40px;top:90.18px;font:bold 12.8px/15.36px 'Liberation Sans',sans-serif;width:28.00px;text-align:center;">28</div>
<div class="t" style="left:834.40px;top:90.18px;font:bold 12.8px/15.36px 'Liberation Sans',sans-serif;width:28.60px;text-align:center;">29</div>
<div class="t" style="left:863.00px;top:90.18px;font:bold 12.8px/15.36px 'Liberation Sans',sans-serif;width:28.20px;text-align:center;">30</div>
<div class="t" style="left:891.20px;top:90.18px;font:bold 12.8px/15.36px 'Liberation Sans',sans-serif;width:28.00px;text-align:center;">31</div>
<div class="t" style="left:14.60px;top:117.94px;font:bold 10.73px/12.88px 'Liberation Serif',serif;">JAN</div>
<div class="t" style="left:14.60px;top:137.84px;font:bold 10.73px/12.88px 'Liberation Serif',serif;">FEV</div>
<div class="t" style="left:14.60px;top:161.04px;font:bold 10.73px/12.88px 'Liberation Serif',serif;">MAR</div>
<div class="t" style="left:14.60px;top:184.44px;font:bold 10.73px/12.88px 'Liberation Serif',serif;">ABR</div>
<div class="t" style="left:14.60px;top:207.64px;font:bold 10.73px/12.88px 'Liberation Serif',serif;">MAI</div>
<div class="t" style="left:14.60px;top:231.04px;font:bold 10.73px/12.88px 'Liberation Serif',serif;">JUN</div>
<div class="t" style="left:14.60px;top:254.44px;font:bold 10.73px/12.88px 'Liberation Serif',serif;">JUL</div>
<div class="t" style="left:14.60px;top:277.64px;font:bold 10.73px/12.88px 'Liberation Serif',serif;">AGO</div>
<div class="t" style="left:14.60px;top:300.84px;font:bold 10.73px/12.88px 'Liberation Serif',serif;">SET</div>
<div class="t" style="left:14.60px;top:323.64px;font:bold 10.73px/12.88px 'Liberation Serif',serif;">OUT</div>
<div class="t" style="left:14.60px;top:346.54px;font:bold 10.73px/12.88px 'Liberation Serif',serif;">NOV</div>
<div class="t" style="left:14.60px;top:369.54px;font:bold 10.73px/12.88px 'Liberation Serif',serif;">DEZ</div>
<div class="t" style="left:43.60px;top:112.14px;font:10.3px/12.36px 'Liberation Serif',serif;width:24.80px;text-align:center;">X</div>
<div class="t" style="left:68.40px;top:112.14px;font:10.3px/12.36px 'Liberation Serif',serif;width:28.00px;text-align:center;">X</div>
<div class="t" style="left:153.40px;top:112.14px;font:10.3px/12.36px 'Liberation Serif',serif;width:28.20px;text-align:center;">X</div>
<div class="t" style="left:181.60px;top:112.14px;font:10.3px/12.36px 'Liberation Serif',serif;width:29.00px;text-align:center;">X</div>
<div class="t" style="left:210.60px;top:115.94px;font:10.3px/12.36px 'Liberation Serif',serif;width:27.80px;text-align:center;">X</div>
<div class="t" style="left:238.40px;top:112.14px;font:10.3px/12.36px 'Liberation Serif',serif;width:28.40px;text-align:center;">X</div>
<div class="t" style="left:266.80px;top:112.14px;font:10.3px/12.36px 'Liberation Serif',serif;width:28.60px;text-align:center;">X</div>
<div class="t" style="left:351.60px;top:112.14px;font:10.3px/12.36px 'Liberation Serif',serif;width:28.80px;text-align:center;">X</div>
<div class="t" style="left:380.40px;top:112.14px;font:10.3px/12.36px 'Liberation Serif',serif;width:28.00px;text-align:center;">X</div>
<div class="t" style="left:408.40px;top:115.94px;font:10.3px/12.36px 'Liberation Serif',serif;width:28.40px;text-align:center;">X</div>
<div class="t" style="left:436.80px;top:112.14px;font:10.3px/12.36px 'Liberation Serif',serif;width:28.60px;text-align:center;">X</div>
<div class="t" style="left:465.40px;top:112.14px;font:10.3px/12.36px 'Liberation Serif',serif;width:28.20px;text-align:center;">X</div>
<div class="t" style="left:550.40px;top:112.14px;font:10.3px/12.36px 'Liberation Serif',serif;width:28.20px;text-align:center;">X</div>
<div class="t" style="left:578.60px;top:112.14px;font:10.3px/12.36px 'Liberation Serif',serif;width:29.00px;text-align:center;">X</div>
<div class="t" style="left:607.60px;top:115.94px;font:10.3px/12.36px 'Liberation Serif',serif;width:27.80px;text-align:center;">X</div>
<div class="t" style="left:635.40px;top:112.14px;font:10.3px/12.36px 'Liberation Serif',serif;width:28.60px;text-align:center;">X</div>
<div class="t" style="left:664.00px;top:112.14px;font:10.3px/12.36px 'Liberation Serif',serif;width:28.40px;text-align:center;">X</div>
<div class="t" style="left:749.40px;top:112.14px;font:10.3px/12.36px 'Liberation Serif',serif;width:28.20px;text-align:center;">X</div>
<div class="t" style="left:777.60px;top:112.14px;font:10.3px/12.36px 'Liberation Serif',serif;width:28.80px;text-align:center;">X</div>
<div class="t" style="left:806.40px;top:115.94px;font:10.3px/12.36px 'Liberation Serif',serif;width:28.00px;text-align:center;">X</div>
<div class="t" style="left:834.40px;top:112.14px;font:10.3px/12.36px 'Liberation Serif',serif;width:28.60px;text-align:center;">X</div>
<div class="t" style="left:863.00px;top:112.14px;font:10.3px/12.36px 'Liberation Serif',serif;width:28.20px;text-align:center;">X</div>
<div class="t" style="left:68.40px;top:134.54px;font:bold 10.73px/12.88px 'Liberation Serif',serif;width:28.00px;text-align:center;">PP</div>
<div class="t" style="left:96.40px;top:134.54px;font:bold 10.73px/12.88px 'Liberation Serif',serif;width:29.00px;text-align:center;">PP</div>
<div class="t" style="left:125.40px;top:137.54px;font:bold 10.73px/12.88px 'Liberation Serif',serif;width:28.00px;text-align:center;">PP</div>
<div class="t" style="left:153.40px;top:137.54px;font:bold 10.73px/12.88px 'Liberation Serif',serif;width:28.20px;text-align:center;">PP</div>
<div class="t" style="left:181.60px;top:134.54px;font:bold 10.73px/12.88px 'Liberation Serif',serif;width:29.00px;text-align:center;">PP</div>
<div class="t" style="left:266.80px;top:134.54px;font:bold 10.73px/12.88px 'Liberation Serif',serif;width:28.60px;text-align:center;">IA</div>
<div class="t" style="left:295.40px;top:134.54px;font:bold 10.73px/12.88px 'Liberation Serif',serif;width:28.20px;text-align:center;">SEP</div>
<div class="t" style="left:323.60px;top:137.54px;font:bold 10.73px/12.88px 'Liberation Serif',serif;width:28.00px;text-align:center;">SEP</div>
<div class="t" style="left:351.60px;top:137.54px;font:bold 10.73px/12.88px 'Liberation Serif',serif;width:28.80px;text-align:center;">SEP</div>
<div class="t" style="left:380.40px;top:137.54px;font:bold 10.73px/12.88px 'Liberation Serif',serif;width:28.00px;text-align:center;">SEP</div>
<div class="t" style="left:493.60px;top:134.13px;font:bold 13.3px/15.96px 'Liberation Serif',serif;width:28.40px;text-align:center;">F</div>
<div class="t" style="left:522.00px;top:137.54px;font:bold 10.73px/12.88px 'Liberation Serif',serif;width:28.40px;text-align:center;">R</div>
<div class="t" style="left:834.40px;top:136.34px;font:10.3px/12.36px 'Liberation Serif',serif;width:28.60px;text-align:center;">X</div>
<div class="t" style="left:863.00px;top:136.34px;font:10.3px/12.36px 'Liberation Serif',serif;width:28.20px;text-align:center;">X</div>
<div class="t" style="left:891.20px;top:136.34px;font:10.3px/12.36px 'Liberation Serif',serif;width:28.00px;text-align:center;">X</div>
<div class="t" style="left:68.40px;top:157.74px;font:bold 10.73px/12.88px 'Liberation Serif',serif;width:28.00px;text-align:center;">T</div>
<div class="t" style="left:96.40px;top:160.74px;font:bold 10.73px/12.88px 'Liberation Serif',serif;width:29.00px;text-align:center;">T</div>
<div class="t" style="left:125.40px;top:160.74px;font:bold 10.73px/12.88px 'Liberation Serif',serif;width:28.00px;text-align:center;">T</div>
<div class="t" style="left:153.40px;top:160.74px;font:bold 10.73px/12.88px 'Liberation Serif',serif;width:28.20px;text-align:center;">T</div>
<div class="t" style="left:181.60px;top:160.74px;font:bold 10.73px/12.88px 'Liberation Serif',serif;width:29.00px;text-align:center;">T</div>
<div class="t" style="left:323.60px;top:157.64px;font:bold 10.73px/12.88px 'Liberation Serif',serif;width:28.00px;text-align:center;">2ª T</div>
<div class="t" style="left:351.60px;top:157.64px;font:bold 10.73px/12.88px 'Liberation Serif',serif;width:28.80px;text-align:center;">2ª T</div>
<div class="t" style="left:380.40px;top:157.64px;font:bold 10.73px/12.88px 'Liberation Serif',serif;width:28.00px;text-align:center;">2ª T</div>
<div class="t" style="left:96.40px;top:182.03px;font:bold 13.3px/15.96px 'Liberation Serif',serif;width:29.00px;text-align:center;">F</div>
<div class="t" style="left:181.60px;top:181.94px;font:bold 10.73px/12.88px 'Liberation Serif',serif;width:29.00px;text-align:center;">P</div>
<div class="t" style="left:210.60px;top:184.94px;font:bold 10.73px/12.88px 'Liberation Serif',serif;width:27.80px;text-align:center;">P</div>
<div class="t" style="left:238.40px;top:184.94px;font:bold 10.73px/12.88px 'Liberation Serif',serif;width:28.40px;text-align:center;">P</div>
<div class="t" style="left:266.80px;top:184.94px;font:bold 10.73px/12.88px 'Liberation Serif',serif;width:28.60px;text-align:center;">P</div>
<div class="t" style="left:295.40px;top:184.94px;font:bold 10.73px/12.88px 'Liberation Serif',serif;width:28.20px;text-align:center;">P</div>
<div class="t" style="left:436.80px;top:183.84px;font:bold 10.73px/12.88px 'Liberation Sans',sans-serif;width:28.60px;text-align:center;">2ª P</div>
<div class="t" style="left:465.40px;top:183.84px;font:bold 10.73px/12.88px 'Liberation Sans',sans-serif;width:28.20px;text-align:center;">2ª P</div>
<div class="t" style="left:493.60px;top:183.84px;font:bold 10.73px/12.88px 'Liberation Sans',sans-serif;width:28.40px;text-align:center;">2ª P</div>
<div class="t" style="left:607.60px;top:182.03px;font:bold 13.3px/15.96px 'Liberation Serif',serif;width:27.80px;text-align:center;">F</div>
<div class="t" style="left:777.60px;top:181.94px;font:bold 10.73px/12.88px 'Liberation Serif',serif;width:28.80px;text-align:center;">PR</div>
<div class="t" style="left:806.40px;top:184.94px;font:bold 10.73px/12.88px 'Liberation Serif',serif;width:28.00px;text-align:center;">PR</div>
<div class="t" style="left:834.40px;top:184.94px;font:bold 10.73px/12.88px 'Liberation Serif',serif;width:28.60px;text-align:center;">PR</div>
<div class="t" style="left:863.00px;top:184.94px;font:bold 10.73px/12.88px 'Liberation Serif',serif;width:28.20px;text-align:center;">PR</div>
<div class="t" style="left:891.20px;top:183.84px;font:11.8px/14.16px 'Liberation Serif',serif;width:28.00px;text-align:center;">X</div>
<div class="t" style="left:43.60px;top:205.15px;font:bold 13.6px/16.32px 'Liberation Serif',serif;width:24.80px;text-align:center;">F</div>
<div class="t" style="left:522.00px;top:204.34px;font:bold 10.73px/12.88px 'Liberation Serif',serif;width:28.40px;text-align:center;">T</div>
<div class="t" style="left:550.40px;top:207.34px;font:bold 10.73px/12.88px 'Liberation Serif',serif;width:28.20px;text-align:center;">T</div>
<div class="t" style="left:578.60px;top:207.34px;font:bold 10.73px/12.88px 'Liberation Serif',serif;width:29.00px;text-align:center;">T</div>
<div class="t" style="left:607.60px;top:207.34px;font:bold 10.73px/12.88px 'Liberation Serif',serif;width:27.80px;text-align:center;">T</div>
<div class="t" style="left:635.40px;top:207.34px;font:bold 10.73px/12.88px 'Liberation Serif',serif;width:28.60px;text-align:center;">T</div>
<div class="t" style="left:777.60px;top:205.04px;font:bold 10.73px/12.88px 'Liberation Serif',serif;width:28.80px;text-align:center;">2ª T</div>
<div class="t" style="left:806.40px;top:205.04px;font:bold 10.73px/12.88px 'Liberation Serif',serif;width:28.00px;text-align:center;">2ª T</div>
<div class="t" style="left:834.40px;top:205.04px;font:bold 10.73px/12.88px 'Liberation Serif',serif;width:28.60px;text-align:center;">2ª T</div>
<div class="t" style="left:125.40px;top:228.63px;font:bold 13.3px/15.96px 'Liberation Serif',serif;width:28.00px;text-align:center;">F</div>
<div class="t" style="left:635.40px;top:227.54px;font:bold 10.73px/12.88px 'Liberation Serif',serif;width:28.60px;text-align:center;">P</div>
<div class="t" style="left:664.00px;top:230.54px;font:bold 10.73px/12.88px 'Liberation Serif',serif;width:28.40px;text-align:center;">P</div>
<div class="t" style="left:692.40px;top:230.54px;font:bold 10.73px/12.88px 'Liberation Serif',serif;width:28.60px;text-align:center;">P</div>
<div class="t" style="left:721.00px;top:230.54px;font:bold 10.73px/12.88px 'Liberation Serif',serif;width:28.40px;text-align:center;">P</div>
<div class="t" style="left:749.40px;top:230.54px;font:bold 10.73px/12.88px 'Liberation Serif',serif;width:28.20px;text-align:center;">P</div>
<div class="t" style="left:891.20px;top:228.24px;font:11.8px/14.16px 'Liberation Serif',serif;width:28.00px;text-align:center;">X</div>
<div class="t" style="left:43.60px;top:250.72px;font:bold 9.8px/11.76px 'Liberation Sans',sans-serif;width:24.80px;text-align:center;">2ª P</div>
<div class="t" style="left:68.40px;top:253.22px;font:bold 9.8px/11.76px 'Liberation Sans',sans-serif;width:28.00px;text-align:center;">2ª P</div>
<div class="t" style="left:96.40px;top:253.22px;font:bold 9.8px/11.76px 'Liberation Sans',sans-serif;width:29.00px;text-align:center;">2ª P</div>
<div class="t" style="left:380.40px;top:250.94px;font:bold 10.73px/12.88px 'Liberation Serif',serif;width:28.00px;text-align:center;">PR</div>
<div class="t" style="left:408.40px;top:253.94px;font:bold 10.73px/12.88px 'Liberation Serif',serif;width:28.40px;text-align:center;">PR</div>
<div class="t" style="left:436.80px;top:250.94px;font:bold 10.73px/12.88px 'Liberation Serif',serif;width:28.60px;text-align:center;">PR</div>
<div class="t" style="left:465.40px;top:250.94px;font:bold 10.73px/12.88px 'Liberation Serif',serif;width:28.20px;text-align:center;">PR</div>
<div class="t" style="left:578.60px;top:250.94px;font:bold 10.73px/12.88px 'Liberation Serif',serif;width:29.00px;text-align:center;">R</div>
<div class="t" style="left:607.60px;top:253.94px;font:bold 10.73px/12.88px 'Liberation Serif',serif;width:27.80px;text-align:center;">R</div>
<div class="t" style="left:635.40px;top:250.94px;font:bold 10.73px/12.88px 'Liberation Serif',serif;width:28.60px;text-align:center;">R</div>
<div class="t" style="left:664.00px;top:250.94px;font:bold 10.73px/12.88px 'Liberation Serif',serif;width:28.40px;text-align:center;">R</div>
<div class="t" style="left:692.40px;top:250.94px;font:bold 10.73px/12.88px 'Liberation Serif',serif;width:28.60px;text-align:center;">R</div>
<div class="t" style="left:777.60px;top:250.94px;font:bold 10.73px/12.88px 'Liberation Serif',serif;width:28.80px;text-align:center;">R</div>
<div class="t" style="left:806.40px;top:253.94px;font:bold 10.73px/12.88px 'Liberation Serif',serif;width:28.00px;text-align:center;">R</div>
<div class="t" style="left:834.40px;top:250.94px;font:bold 10.73px/12.88px 'Liberation Serif',serif;width:28.60px;text-align:center;">R</div>
<div class="t" style="left:863.00px;top:253.94px;font:bold 10.73px/12.88px 'Liberation Serif',serif;width:28.20px;text-align:center;">R</div>
<div class="t" style="left:891.20px;top:253.94px;font:bold 10.73px/12.88px 'Liberation Serif',serif;width:28.00px;text-align:center;">R</div>
<div class="t" style="left:96.40px;top:274.34px;font:bold 10.73px/12.88px 'Liberation Serif',serif;width:29.00px;text-align:center;">IA</div>
<div class="t" style="left:692.40px;top:274.34px;font:bold 10.73px/12.88px 'Liberation Serif',serif;width:28.60px;text-align:center;">T</div>
<div class="t" style="left:721.00px;top:277.34px;font:bold 10.73px/12.88px 'Liberation Serif',serif;width:28.40px;text-align:center;">T</div>
<div class="t" style="left:749.40px;top:277.34px;font:bold 10.73px/12.88px 'Liberation Serif',serif;width:28.20px;text-align:center;">T</div>
<div class="t" style="left:777.60px;top:277.34px;font:bold 10.73px/12.88px 'Liberation Serif',serif;width:28.80px;text-align:center;">T</div>
<div class="t" style="left:806.40px;top:277.34px;font:bold 10.73px/12.88px 'Liberation Serif',serif;width:28.00px;text-align:center;">T</div>
<div class="t" style="left:891.20px;top:276.74px;font:11.8px/14.16px 'Liberation Serif',serif;width:28.00px;text-align:center;">X</div>
<div class="t" style="left:68.40px;top:299.34px;font:bold 10.73px/12.88px 'Liberation Serif',serif;width:28.00px;text-align:center;">2ª T</div>
<div class="t" style="left:97.00px;top:299.34px;font:bold 10.73px/12.88px 'Liberation Serif',serif;width:29.00px;text-align:left;">2ª T</div>
<div class="t" style="left:125.40px;top:299.34px;font:bold 10.73px/12.88px 'Liberation Serif',serif;width:28.00px;text-align:center;">2ª T</div>
<div class="t" style="left:210.60px;top:298.63px;font:bold 13.3px/15.96px 'Liberation Serif',serif;width:27.80px;text-align:center;">F</div>
<div class="t" style="left:607.60px;top:299.24px;font:bold 10.73px/12.88px 'Liberation Serif',serif;width:27.80px;text-align:center;">P</div>
<div class="t" style="left:635.40px;top:299.24px;font:bold 10.73px/12.88px 'Liberation Serif',serif;width:28.60px;text-align:center;">P</div>
<div class="t" style="left:664.00px;top:299.24px;font:bold 10.73px/12.88px 'Liberation Serif',serif;width:28.40px;text-align:center;">P</div>
<div class="t" style="left:692.40px;top:299.24px;font:bold 10.73px/12.88px 'Liberation Serif',serif;width:28.60px;text-align:center;">P</div>
<div class="t" style="left:721.00px;top:299.24px;font:bold 10.73px/12.88px 'Liberation Serif',serif;width:28.40px;text-align:center;">P</div>
<div class="t" style="left:863.00px;top:300.24px;font:bold 10.73px/12.88px 'Liberation Serif',serif;width:28.20px;text-align:center;">2ª P</div>
<div class="t" style="left:891.20px;top:299.44px;font:11.8px/14.16px 'Liberation Serif',serif;width:28.00px;text-align:center;">X</div>
<div class="t" style="left:44.20px;top:322.84px;font:bold 10.73px/12.88px 'Liberation Serif',serif;width:24.80px;text-align:left;">2ª P</div>
<div class="t" style="left:68.40px;top:322.84px;font:bold 10.73px/12.88px 'Liberation Serif',serif;width:28.00px;text-align:center;">2ª P</div>
<div class="t" style="left:351.60px;top:321.55px;font:bold 13.6px/16.32px 'Liberation Serif',serif;width:28.80px;text-align:center;">F</div>
<div class="t" style="left:380.40px;top:323.11px;font:bold 11.4px/13.68px 'Liberation Serif',serif;width:28.00px;text-align:center;">PR</div>
<div class="t" style="left:408.40px;top:323.11px;font:bold 11.4px/13.68px 'Liberation Serif',serif;width:28.40px;text-align:center;">PR</div>
<div class="t" style="left:436.80px;top:321.55px;font:bold 13.6px/16.32px 'Liberation Serif',serif;width:28.60px;text-align:center;">F</div>
<div class="t" style="left:465.40px;top:323.11px;font:bold 11.4px/13.68px 'Liberation Serif',serif;width:28.20px;text-align:center;">PR</div>
<div class="t" style="left:550.40px;top:323.11px;font:bold 11.4px/13.68px 'Liberation Serif',serif;width:28.20px;text-align:center;">PR</div>
<div class="t" style="left:749.40px;top:323.74px;font:bold 10.73px/12.88px 'Liberation Serif',serif;width:28.20px;text-align:center;">T</div>
<div class="t" style="left:777.60px;top:323.74px;font:bold 10.73px/12.88px 'Liberation Serif',serif;width:28.80px;text-align:center;">T</div>
<div class="t" style="left:806.40px;top:320.74px;font:bold 10.73px/12.88px 'Liberation Serif',serif;width:28.00px;text-align:center;">T</div>
<div class="t" style="left:829.90px;top:320.74px;font:bold 10.73px/12.88px 'Liberation Serif',serif;width:28.60px;text-align:center;">T</div>
<div class="t" style="left:863.00px;top:320.74px;font:bold 10.73px/12.88px 'Liberation Serif',serif;width:28.20px;text-align:center;">T</div>
<div class="t" style="left:68.40px;top:344.35px;font:bold 13.6px/16.32px 'Liberation Serif',serif;width:28.00px;text-align:center;">F</div>
<div class="t" style="left:125.40px;top:346.04px;font:bold 10.73px/12.88px 'Liberation Serif',serif;width:28.00px;text-align:center;">2ª T</div>
<div class="t" style="left:153.40px;top:346.04px;font:bold 10.73px/12.88px 'Liberation Serif',serif;width:28.20px;text-align:center;">2ª T</div>
<div class="t" style="left:181.60px;top:346.04px;font:bold 10.73px/12.88px 'Liberation Serif',serif;width:29.00px;text-align:center;">2ª T</div>
<div class="t" style="left:578.60px;top:344.35px;font:bold 13.6px/16.32px 'Liberation Serif',serif;width:29.00px;text-align:center;">F</div>
<div class="t" style="left:664.00px;top:345.24px;font:bold 10.73px/12.88px 'Liberation Serif',serif;width:28.40px;text-align:center;">P</div>
<div class="t" style="left:692.40px;top:345.24px;font:bold 10.73px/12.88px 'Liberation Serif',serif;width:28.60px;text-align:center;">P</div>
<div class="t" style="left:721.00px;top:345.24px;font:bold 10.73px/12.88px 'Liberation Serif',serif;width:28.40px;text-align:center;">P</div>
<div class="t" style="left:749.40px;top:345.24px;font:bold 10.73px/12.88px 'Liberation Serif',serif;width:28.20px;text-align:center;">P</div>
<div class="t" style="left:777.60px;top:345.24px;font:bold 10.73px/12.88px 'Liberation Serif',serif;width:28.80px;text-align:center;">P</div>
<div class="t" style="left:891.20px;top:343.64px;font:11.8px/14.16px 'Liberation Serif',serif;width:28.00px;text-align:center;">X</div>
<div class="t" style="left:69.00px;top:369.54px;font:bold 10.73px/12.88px 'Liberation Serif',serif;width:28.00px;text-align:left;">2ª P</div>
<div class="t" style="left:96.40px;top:369.54px;font:bold 10.73px/12.88px 'Liberation Serif',serif;width:29.00px;text-align:center;">2ª P</div>
<div class="t" style="left:125.40px;top:369.54px;font:bold 10.73px/12.88px 'Liberation Serif',serif;width:28.00px;text-align:center;">2ª P</div>
<div class="t" style="left:408.40px;top:369.21px;font:bold 11.4px/13.68px 'Liberation Serif',serif;width:28.40px;text-align:center;">PR</div>
<div class="t" style="left:436.80px;top:369.21px;font:bold 11.4px/13.68px 'Liberation Serif',serif;width:28.60px;text-align:center;">PR</div>
<div class="t" style="left:465.40px;top:369.21px;font:bold 11.4px/13.68px 'Liberation Serif',serif;width:28.20px;text-align:center;">PR</div>
<div class="t" style="left:493.60px;top:369.21px;font:bold 11.4px/13.68px 'Liberation Serif',serif;width:28.40px;text-align:center;">PR</div>
<div class="t" style="left:721.00px;top:367.25px;font:bold 13.6px/16.32px 'Liberation Serif',serif;width:28.40px;text-align:center;">F</div>
<div class="t" style="left:806.40px;top:368.94px;font:bold 11.8px/14.16px 'Liberation Serif',serif;width:28.00px;text-align:center;">PF</div>
<div class="t" style="left:834.40px;top:368.94px;font:bold 11.8px/14.16px 'Liberation Serif',serif;width:28.60px;text-align:center;">PF</div>
<div class="t" style="left:0.00px;top:29.32px;font:bold 15.4px/18.48px 'Liberation Sans',sans-serif;width:952.00px;text-align:center;">CENTRO DE EDUCAÇÃO MODERNA – C E M</div>
<div class="t" style="left:0.00px;top:45.96px;font:10.72px/12.86px 'Liberation Sans',sans-serif;width:952.00px;text-align:center;">Unidade de Itaguaí - <b>Telefone:</b> (21) 2688-7903 - <b>CNPJ</b> 05.276.489/0001-42</div>
<div class="t" style="left:0.00px;top:72.52px;font:bold 14.24px/17.09px 'Liberation Sans',sans-serif;width:952.00px;text-align:center;">Calendário Escolar – 2026 – <i>Unidade de Itaguaí</i></div>
<div class="t" style="left:12.30px;top:399.01px;font:bold 9.5px/11.4px 'Liberation Sans',sans-serif;width:225.40px;text-align:center;">LEGENDA</div>
<div class="t" style="left:12.30px;top:411.84px;font:bold 10.73px/12.88px 'Liberation Serif',serif;width:40.30px;text-align:center;">IA</div>
<div class="t" style="left:58.90px;top:412.19px;font:11.85px/14.22px 'Liberation Serif',serif;">Início das Aulas</div>
<div class="t" style="left:12.30px;top:426.24px;font:bold 10.73px/12.88px 'Liberation Serif',serif;width:40.30px;text-align:center;">PP</div>
<div class="t" style="left:58.90px;top:426.59px;font:11.85px/14.22px 'Liberation Serif',serif;">Planejamento Pedagógico</div>
<div class="t" style="left:12.30px;top:440.34px;font:bold 10.73px/12.88px 'Liberation Serif',serif;width:40.30px;text-align:center;">SEP</div>
<div class="t" style="left:58.90px;top:440.69px;font:11.85px/14.22px 'Liberation Serif',serif;">Simulação de Emergência e Pânico</div>
<div class="t" style="left:12.30px;top:455.74px;font:10.73px/12.88px 'Liberation Serif',serif;width:40.30px;text-align:center;">*</div>
<div class="t" style="left:58.90px;top:454.79px;font:11.85px/14.22px 'Liberation Serif',serif;">Aula de Recuperação</div>
<div class="t" style="left:12.30px;top:468.54px;font:bold 10.73px/12.88px 'Liberation Serif',serif;width:40.30px;text-align:center;">R</div>
<div class="t" style="left:58.90px;top:468.89px;font:11.85px/14.22px 'Liberation Serif',serif;">Recesso</div>
<div class="t" style="left:12.30px;top:482.74px;font:bold 10.73px/12.88px 'Liberation Serif',serif;width:40.30px;text-align:center;">2ª T</div>
<div class="t" style="left:58.90px;top:483.09px;font:11.85px/14.22px 'Liberation Serif',serif;">2ª chamada de Teste</div>
<div class="t" style="left:12.30px;top:496.94px;font:bold 10.73px/12.88px 'Liberation Serif',serif;width:40.30px;text-align:center;">2ª P</div>
<div class="t" style="left:58.90px;top:497.29px;font:11.85px/14.22px 'Liberation Serif',serif;">2ª chamada de Prova</div>
<div class="t" style="left:12.30px;top:511.54px;font:bold 10.73px/12.88px 'Liberation Serif',serif;width:40.30px;text-align:center;">T</div>
<div class="t" style="left:58.90px;top:511.89px;font:11.85px/14.22px 'Liberation Serif',serif;">Teste</div>
<div class="t" style="left:12.30px;top:525.84px;font:bold 10.73px/12.88px 'Liberation Serif',serif;width:40.30px;text-align:center;">P</div>
<div class="t" style="left:58.90px;top:526.19px;font:11.85px/14.22px 'Liberation Serif',serif;">Prova</div>
<div class="t" style="left:12.30px;top:539.94px;font:bold 10.73px/12.88px 'Liberation Serif',serif;width:40.30px;text-align:center;">F</div>
<div class="t" style="left:58.90px;top:540.29px;font:11.85px/14.22px 'Liberation Serif',serif;">Feriado</div>
<div class="t" style="left:58.90px;top:554.49px;font:11.85px/14.22px 'Liberation Serif',serif;">Sábado/Domingo</div>
<div class="t" style="left:12.30px;top:572.14px;font:10.73px/12.88px 'Liberation Serif',serif;width:40.30px;text-align:center;">*</div>
<div class="t" style="left:58.90px;top:571.19px;font:11.85px/14.22px 'Liberation Serif',serif;">Metodologias Ativas/Projetos</div>
<div class="t" style="left:12.30px;top:585.24px;font:bold 10.73px/12.88px 'Liberation Serif',serif;width:40.30px;text-align:center;">PR</div>
<div class="t" style="left:58.90px;top:585.59px;font:11.85px/14.22px 'Liberation Serif',serif;">Recuperação</div>
<div class="t" style="left:12.30px;top:599.44px;font:bold 10.73px/12.88px 'Liberation Serif',serif;width:40.30px;text-align:center;">PF</div>
<div class="t" style="left:58.90px;top:599.79px;font:11.85px/14.22px 'Liberation Serif',serif;">Prova Final</div>
<div class="t" style="left:12.30px;top:614.54px;font:10.73px/12.88px 'Liberation Serif',serif;width:40.30px;text-align:center;">*</div>
<div class="t" style="left:58.90px;top:613.59px;font:11.85px/14.22px 'Liberation Serif',serif;">Reunião de Pais/COC</div>
<div class="t" style="left:12.30px;top:628.01px;font:italic bold 9.5px/11.4px 'Liberation Sans',sans-serif;width:225.40px;text-align:center;">* As legendas sem siglas são móveis.</div>
<div class="t" style="left:12.30px;top:639.01px;font:italic bold 9.5px/11.4px 'Liberation Sans',sans-serif;width:225.40px;text-align:center;">Calendário Escolar (currículo oculto)</div>
<div class="t" style="left:261.60px;top:399.01px;font:bold 9.5px/11.4px 'Liberation Sans',sans-serif;width:158.90px;text-align:center;">DIAS LETIVOS</div>
<div class="t" style="left:269.30px;top:412.09px;font:11.85px/14.22px 'Liberation Serif',serif;">Fevereiro</div>
<div class="t" style="left:380.30px;top:412.09px;font:11.85px/14.22px 'Liberation Serif',serif;width:42.20px;text-align:center;">13</div>
<div class="t" style="left:269.30px;top:426.49px;font:11.85px/14.22px 'Liberation Serif',serif;">Março</div>
<div class="t" style="left:380.30px;top:426.49px;font:11.85px/14.22px 'Liberation Serif',serif;width:42.20px;text-align:center;">22</div>
<div class="t" style="left:269.30px;top:440.89px;font:11.85px/14.22px 'Liberation Serif',serif;">Abril</div>
<div class="t" style="left:380.30px;top:440.89px;font:11.85px/14.22px 'Liberation Serif',serif;width:42.20px;text-align:center;">20</div>
<div class="t" style="left:269.30px;top:455.19px;font:11.85px/14.22px 'Liberation Serif',serif;">Maio</div>
<div class="t" style="left:380.30px;top:455.19px;font:11.85px/14.22px 'Liberation Serif',serif;width:42.20px;text-align:center;">20</div>
<div class="t" style="left:269.30px;top:469.09px;font:11.85px/14.22px 'Liberation Serif',serif;">Junho</div>
<div class="t" style="left:380.30px;top:469.09px;font:11.85px/14.22px 'Liberation Serif',serif;width:42.20px;text-align:center;">21</div>
<div class="t" style="left:269.30px;top:483.29px;font:11.85px/14.22px 'Liberation Serif',serif;">Julho</div>
<div class="t" style="left:380.30px;top:483.29px;font:11.85px/14.22px 'Liberation Serif',serif;width:42.20px;text-align:center;">13</div>
<div class="t" style="left:269.30px;top:497.39px;font:11.85px/14.22px 'Liberation Serif',serif;">Agosto</div>
<div class="t" style="left:380.30px;top:497.39px;font:11.85px/14.22px 'Liberation Serif',serif;width:42.20px;text-align:center;">20</div>
<div class="t" style="left:269.30px;top:511.79px;font:11.85px/14.22px 'Liberation Serif',serif;">Setembro</div>
<div class="t" style="left:380.30px;top:511.79px;font:11.85px/14.22px 'Liberation Serif',serif;width:42.20px;text-align:center;">21</div>
<div class="t" style="left:269.30px;top:526.39px;font:11.85px/14.22px 'Liberation Serif',serif;">Outubro</div>
<div class="t" style="left:380.30px;top:526.39px;font:11.85px/14.22px 'Liberation Serif',serif;width:42.20px;text-align:center;">21</div>
<div class="t" style="left:269.30px;top:540.79px;font:11.85px/14.22px 'Liberation Serif',serif;">Novembro</div>
<div class="t" style="left:380.30px;top:540.79px;font:11.85px/14.22px 'Liberation Serif',serif;width:42.20px;text-align:center;">19</div>
<div class="t" style="left:269.30px;top:554.59px;font:11.85px/14.22px 'Liberation Serif',serif;">Dezembro</div>
<div class="t" style="left:380.30px;top:554.59px;font:11.85px/14.22px 'Liberation Serif',serif;width:42.20px;text-align:center;">22</div>
<div class="t" style="left:263.60px;top:604.09px;font:italic bold 11.85px/14.22px 'Liberation Serif',serif;width:116.70px;text-align:center;">Total</div>
<div class="t" style="left:380.30px;top:604.09px;font:bold 11.85px/14.22px 'Liberation Serif',serif;width:42.20px;text-align:center;">212</div>
<div class="t" style="left:454.00px;top:393.84px;font:10.73px/12.88px 'Liberation Serif',serif;"><b>1º Bimestre:</b> 09/02/2025 até 30/04/2026;</div>
<div class="t" style="left:454.00px;top:411.84px;font:10.73px/12.88px 'Liberation Serif',serif;"><b>2º Bimestre:</b> 04/05/2025 até 17/07/2026;</div>
<div class="t" style="left:454.00px;top:430.24px;font:10.73px/12.88px 'Liberation Serif',serif;"><b>3º Bimestre:</b> 03/08/2025 até 16/10/2026;</div>
<div class="t" style="left:454.00px;top:449.04px;font:10.73px/12.88px 'Liberation Serif',serif;"><b>4º Bimestre:</b> 19/10/2025 até 31/12/2026.</div>
<div class="t" style="left:674.60px;top:393.94px;font:10.73px/12.88px 'Liberation Serif',serif;width:217.10px;text-align:center;"><b style="text-decoration:underline">Currículo por Áreas de Conhecimento:</b></div>
<div class="t" style="left:684.20px;top:413.24px;font:10.73px/12.88px 'Liberation Serif',serif;">- Linguagens;</div>
<div class="t" style="left:684.20px;top:430.84px;font:10.73px/12.88px 'Liberation Serif',serif;">- Matemática;</div>
<div class="t" style="left:684.20px;top:449.14px;font:10.73px/12.88px 'Liberation Serif',serif;">- Ciências da Natureza;</div>
<div class="t" style="left:684.20px;top:467.54px;font:10.73px/12.88px 'Liberation Serif',serif;">- Ciências Humanas e Sociais Aplicadas</div>
<div class="t" style="left:445.50px;top:499.84px;font:bold 10.73px/12.88px 'Liberation Serif',serif;width:440.20px;text-align:center;">Computação das Médias:&nbsp;&nbsp;&nbsp;&nbsp;&nbsp;&nbsp;&nbsp;&nbsp;&nbsp;Média da Escola (60)</div>
<div class="t" style="left:447.50px;top:511.74px;font:10.73px/12.88px 'Liberation Serif',serif;"><b>- Ensino Fundamental: 1º ao 7º:</b> Teste (80) + Trabalho (20) + Prova (100) = 200 : 2 = Média (100)</div>
<div class="t" style="left:447.50px;top:536.34px;font:10.73px/12.88px 'Liberation Serif',serif;"><b>- 8º, 9º ano e Ensino Médio:</b> Simulado semanal de acordo com as áreas de conhecimento:</div>
<div class="t" style="left:447.50px;top:548.44px;font:10.73px/12.88px 'Liberation Serif',serif;">Linguagens, Matemática, Ciências da Natureza e Ciências Humanas e sociais, com 5 questões&nbsp; cada</div>
<div class="t" style="left:447.50px;top:560.64px;font:10.73px/12.88px 'Liberation Serif',serif;">alternando em objetivas e dissertativas, valendo 1 ponto cada questão.</div>
<div class="t" style="left:444.00px;top:589.44px;font:10.73px/12.88px 'Liberation Serif',serif;width:442.30px;text-align:justify;text-align-last:justify;"><b>10/02/2026 =</b> Início das ações pedagógicas práticas que simulem situações de emergência e pânico</div>
<div class="t" style="left:444.00px;top:602.14px;font:10.73px/12.88px 'Liberation Serif',serif;">com equipe pedagógica e colaboradores.</div>
<div class="t" style="left:444.00px;top:614.44px;font:10.73px/12.88px 'Liberation Serif',serif;width:442.30px;text-align:justify;text-align-last:justify;"><b>11/02 a 13/02/2026</b> = Início das ações pedagógicas práticas que simulem situações de emergência e</div>
<div class="t" style="left:444.00px;top:625.74px;font:10.73px/12.88px 'Liberation Serif',serif;">pânico com equipe pedagógica, corpo docente, corpo discente e colaboradores.</div>
</div>
</body></html>
